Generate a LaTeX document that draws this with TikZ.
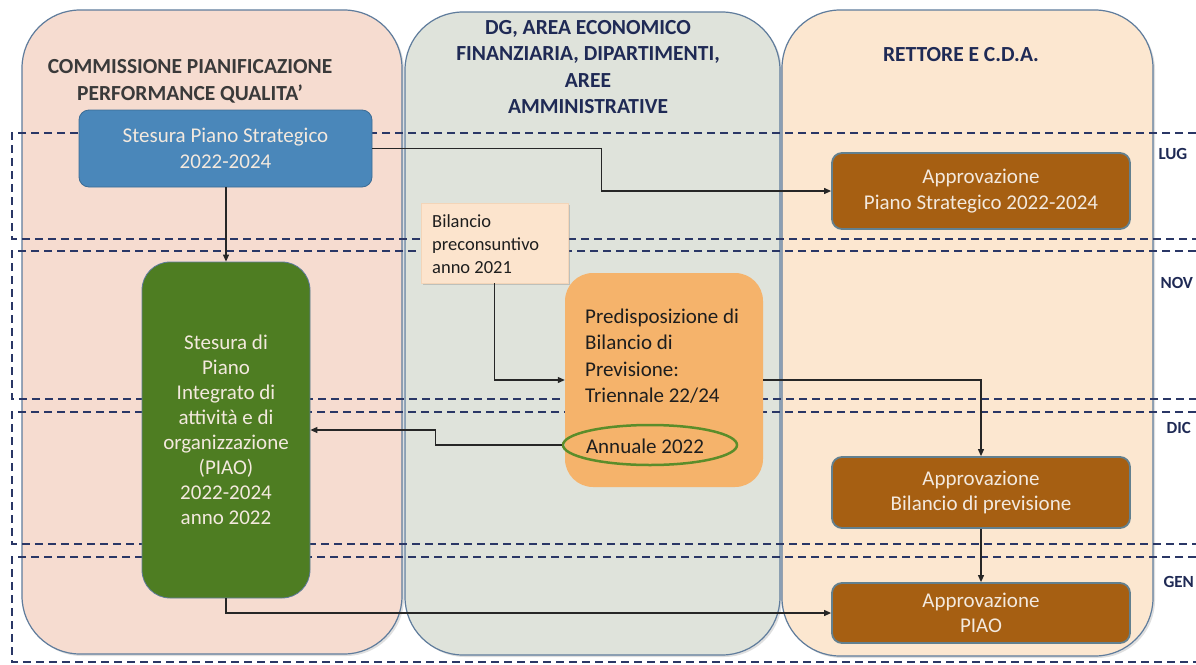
\documentclass[tikz,border=0pt]{standalone}
\usepackage{fontspec}
\setmainfont{Carlito}
\usetikzlibrary{arrows.meta,shadows,shapes.geometric}
\definecolor{laneA}{HTML}{F6DCD0}
\definecolor{laneB}{HTML}{DFE3DB}
\definecolor{laneC}{HTML}{FCE7D0}
\definecolor{laneedge}{HTML}{5F7C9C}
\definecolor{navy}{HTML}{2A3766}
\definecolor{titlenavy}{HTML}{1F2A55}
\definecolor{titlegray}{HTML}{3A3A3A}
\definecolor{bluebox}{HTML}{4A87BA}
\definecolor{greenbox}{HTML}{4E7D22}
\definecolor{brownbox}{HTML}{A65F12}
\definecolor{orangebox}{HTML}{F5B36B}
\definecolor{peachbox}{HTML}{FCE4CD}
\definecolor{ellipsegreen}{HTML}{5B8D2A}
\definecolor{boxedge}{HTML}{62808F}
\definecolor{lighttext}{HTML}{F3E9DE}
\definecolor{darktext}{HTML}{1E1E1E}
\begin{document}
\begin{tikzpicture}[x=1pt,y=-1pt,
  lane/.style={draw=laneedge, line width=1.2pt, rounded corners=58pt,
    drop shadow={opacity=0.25,shadow xshift=2pt,shadow yshift=-2pt}},
  band/.style={draw=navy, line width=1.8pt, dash pattern=on 8pt off 5pt},
  lanetitle/.style={font=\bfseries\fontsize{21.5}{26.5}\selectfont, align=center},
  month/.style={font=\bfseries\fontsize{17}{20}\selectfont, text=titlenavy, anchor=west},
  boxtext/.style={font=\fontsize{21}{25.5}\selectfont, align=center, inner sep=0pt},
  bluestyle/.style={fill=bluebox, draw=bluebox!80!black, line width=0.8pt, rounded corners=10pt, text=lighttext, boxtext},
  greenstyle/.style={fill=greenbox, draw=laneedge, line width=0.8pt, rounded corners=28pt, text=lighttext, boxtext, font=\fontsize{21}{25}\selectfont},
  brownstyle/.style={fill=brownbox, draw=boxedge, line width=1.8pt, rounded corners=10pt, text=lighttext, boxtext},
  peachstyle/.style={fill=peachbox, draw=peachbox!85!brown, line width=0.6pt, drop shadow={opacity=0.35,shadow xshift=2pt,shadow yshift=-2pt}},
  orangestyle/.style={fill=orangebox, rounded corners=28pt},
  arr/.style={draw=black!85, line width=1.1pt, -{Triangle[length=7pt,width=6pt]}}
]
\useasboundingbox (0,0) rectangle (1196,664);
\fill[white] (0,0) rectangle (1196,664);

% lanes
\path[lane, fill=laneA] (22,10) rectangle (402,654);
\path[lane, fill=laneB] (405,12) rectangle (780,655);
\path[lane, fill=laneC] (782,10) rectangle (1153,656);

% lane titles
\node[lanetitle, text=titlegray] (t1) at (190,81.5) {COMMISSIONE PIANIFICAZIONE\\PERFORMANCE QUALITA’};
\node[lanetitle, text=titlenavy] (t2) at (588,67) {DG, AREA ECONOMICO\\FINANZIARIA, DIPARTIMENTI,\\AREE\\AMMINISTRATIVE};
\node[lanetitle, text=titlenavy] (t3) at (961,55) {RETTORE E C.D.A.};

% month bands
\draw[band] (1196,133) -- (12,133) -- (12,239) -- (1196,239);
\draw[band] (1196,251) -- (12,251) -- (12,399) -- (1196,399);
\draw[band] (1196,412) -- (12,412) -- (12,544) -- (1196,544);
\draw[band] (1196,557) -- (12,557) -- (12,662) -- (1196,662);

\node[month] (lug) at (1155,154) {LUG};
\node[month] (nov) at (1157,283) {NOV};
\node[month] (dic) at (1163,428) {DIC};
\node[month] (gen) at (1160,582) {GEN};

% boxes
\node[bluestyle, minimum width=293pt, minimum height=77pt] (ps) at (225.5,148.5) {Stesura Piano Strategico\\2022-2024};
\node[greenstyle, minimum width=168pt, minimum height=336pt] (green) at (226,430) {Stesura di\\Piano\\Integrato di\\attività e di\\organizzazione\\(PIAO)\\2022-2024\\anno 2022};
\node[peachstyle, minimum width=147pt, minimum height=80pt] (bil) at (494.5,243) {};
\node[font=\fontsize{18.5}{23}\selectfont, text=darktext, align=left, anchor=west, inner sep=0pt] (biltext) at (432,244) {Bilancio\\preconsuntivo\\anno 2021};
\node[orangestyle, minimum width=198pt, minimum height=214pt] (pred) at (664,380) {};
\node[font=\fontsize{21}{26.3}\selectfont, text=darktext, align=left, anchor=west, inner sep=0pt] (predtext) at (585,356) {Predisposizione di\\Bilancio di\\Previsione:\\Triennale 22/24};
\node[draw=ellipsegreen, line width=2.5pt, ellipse, minimum width=174pt, minimum height=40pt] (ann) at (650,445) {};
\node[font=\fontsize{21}{25}\selectfont, text=darktext, inner sep=0pt] (anntext) at (645,446) {Annuale 2022};
\node[brownstyle, minimum width=298pt, minimum height=76pt] (aps) at (981,191) {Approvazione\\Piano Strategico 2022-2024};
\node[brownstyle, minimum width=298pt, minimum height=71pt] (abil) at (981,492.5) {Approvazione\\Bilancio di previsione};
\node[brownstyle, minimum width=298pt, minimum height=60pt] (apiao) at (981,613) {Approvazione\\PIAO};

% connectors
\draw[arr] (ps.east) -- ++(229,0) |- (aps.west);
\draw[arr] (green.north |- ps.south) -- (green.north);
\draw[arr] (bil.south) |- (pred.west);
\draw[arr] (pred.east) -| (abil.north);
\draw[arr] (ann.west) -- ++(-126,0) |- (green.east);
\draw[arr] (abil.south) -- (apiao.north);
\draw[arr] (green.south) |- (apiao.west);
\end{tikzpicture}
\end{document}
